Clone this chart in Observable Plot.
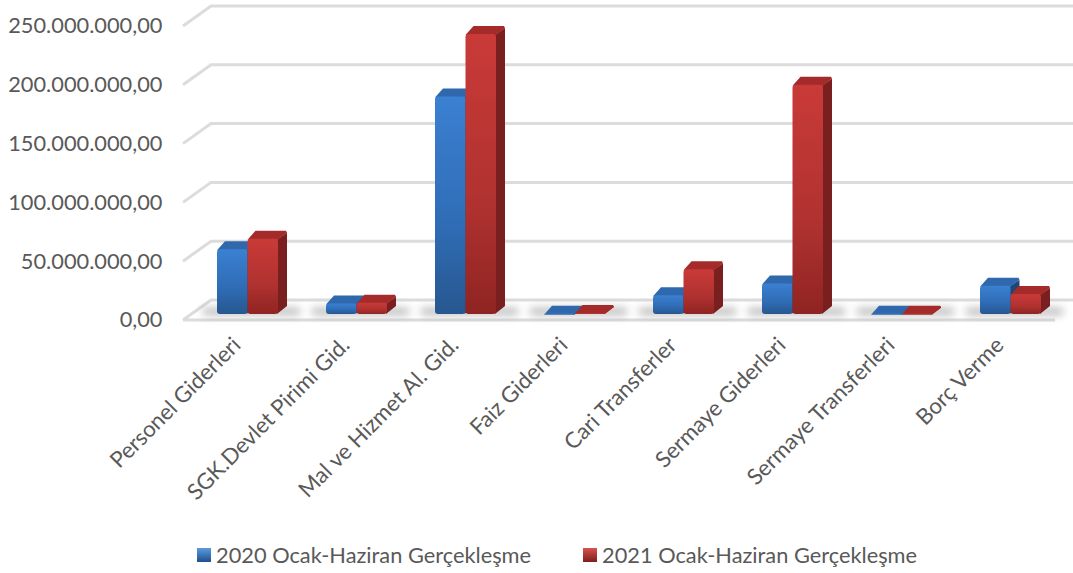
<!DOCTYPE html>
<html><head><meta charset="utf-8">
<style>
html,body{margin:0;padding:0;background:#fff;}
body{width:1073px;height:573px;overflow:hidden;font-family:Lato,sans-serif;}
#legend{display:flex;height:38px;align-items:center;font:21.8px Lato,sans-serif;color:#595959;position:relative;}
.key{position:absolute;top:6px;display:flex;align-items:center;white-space:nowrap;}
.sw{width:14px;height:14px;margin-right:5px;display:inline-block;}
.shadow{filter:blur(4px);opacity:.6;}
.bars{filter:blur(.6px);}
</style>
<script src="https://cdn.jsdelivr.net/npm/d3@7"></script>
<script src="https://cdn.jsdelivr.net/npm/@observablehq/plot@0.6"></script>
</head><body><div id="chart"></div><div id="legend"></div>
<script>
const categories = ["Personel Giderleri","SGK.Devlet Pirimi Gid.","Mal ve Hizmet Al. Gid.","Faiz Giderleri","Cari Transferler","Sermaye Giderleri","Sermaye Transferleri","Borç Verme"];
const values2020 = [55000000,9000000,185000000,300000,16000000,26000000,150000,24000000];
const values2021 = [64000000,9500000,238000000,800000,38000000,195000000,250000,17000000];
const seriesNames = ["2020 Ocak-Haziran Gerçekleşme","2021 Ocak-Haziran Gerçekleşme"];
const yTicks = [0,50000000,100000000,150000000,200000000,250000000];

const tr = d3.formatLocale({decimal:",",thousands:".",grouping:[3],currency:["",""]}).format(",.2f");
const NS = "http://www.w3.org/2000/svg";
const W = 1073, H = 535, depth = {gx:28, gy:20, bx:9, by:8};

function poly(parent, pts, fill){
  const p = document.createElementNS(NS,"polygon");
  p.setAttribute("points", pts.map(q=>q.join(",")).join(" "));
  p.setAttribute("fill", fill);
  parent.appendChild(p);
}
function gridRender(index, scales, values, dims){
  const g = document.createElementNS(NS,"g");
  const x0 = dims.marginLeft, x1 = dims.width - dims.marginRight;
  for (const v of yTicks){
    const y = scales.y(v);
    const path = document.createElementNS(NS,"path");
    const d = v===0
      ? `M${x0},${y}L${x0+depth.gx},${y-depth.gy}L${x1+depth.gx},${y-depth.gy}M${x0},${y}L${x1},${y}`
      : `M${x0},${y}L${x0+depth.gx},${y-depth.gy}L${x1+depth.gx},${y-depth.gy}`;
    path.setAttribute("d", d);
    path.setAttribute("fill","none");
    path.setAttribute("stroke","#dcdcdc");
    path.setAttribute("stroke-width","3");
    g.appendChild(path);
  }
  return g;
}
function bar3d(vals, key, insets){
  return Plot.barY(categories, {
    x: d=>d,
    y: (d,i)=>vals[i],
    ...insets,
    dx: 10, dy: -6, rx: 3,
    fill: `url(#front-${key})`,
    className: "bars",
    render(index, scales, values, dims, ctx, next){
      const g = next(index, scales, values, dims, ctx);
      g.querySelectorAll("rect").forEach(r=>{
        const x=+r.getAttribute("x"), y=+r.getAttribute("y"), w=+r.getAttribute("width"), h=+r.getAttribute("height");
        const par=r.parentNode;
        poly(par,[[x+w-1,y+1],[x+w+depth.bx,y-depth.by+2],[x+w+depth.bx,y+h-depth.by],[x+w-1,y+h]], key==="a"?"#1d4777":"#7a1f1f");
        poly(par,[[x,y+1],[x+depth.bx-1,y-depth.by],[x+w+depth.bx-1,y-depth.by],[x+w+depth.bx,y-depth.by+2],[x+w,y+1]], key==="a"?"#2f68ad":"#a52a2a");
        par.appendChild(r);
      });
      return g;
    }
  });
}
const half = 30.5;
const chart = Plot.plot({
  width: W, height: H,
  marginLeft: 183, marginRight: 18, marginTop: 26, marginBottom: H-320,
  style:{fontFamily:"Lato,sans-serif",background:"#fff",color:"#595959"},
  x:{domain:categories,paddingInner:48/109,paddingOuter:24/109,label:null},
  y:{domain:[0,250000000],label:null},
  marks:[
    Plot.ruleY([0],{render:gridRender}),
    Plot.tickY(categories,{x:d=>d,y:()=>0,dx:10,dy:-9,stroke:"#888",strokeWidth:7,insetLeft:-14,insetRight:-22,className:"shadow"}),
    bar3d(values2020,"a",{insetRight:half}),
    bar3d(values2021,"b",{insetLeft:half}),
    Plot.axisY({ticks:yTicks,tickFormat:tr,tickSize:0,tickPadding:21,fontSize:21.8,fill:"#595959",label:null}),
    Plot.axisX({tickRotate:-45,tickSize:0,tickPadding:21,fontSize:22.2,fill:"#595959",label:null,dx:-1})
  ]
});
const defs = d3.select(chart).insert("defs",":first-child");
[["a","#3b80d2","#2f6cb5","#27578f"],["b","#c93a38","#b03230","#8f2422"]].forEach(([k,c1,c2,c3])=>{
  const gr = defs.append("linearGradient").attr("id",`front-${k}`).attr("x1",0).attr("y1",0).attr("x2",0).attr("y2",1);
  gr.append("stop").attr("offset",0).attr("stop-color",c1);
  gr.append("stop").attr("offset",.6).attr("stop-color",c2);
  gr.append("stop").attr("offset",1).attr("stop-color",c3);
});
document.getElementById("chart").appendChild(chart);
const lg = document.getElementById("legend");
[[197,"#5b9be0,#1f4f8c"],[583,"#d9524f,#7d1f1d"]].forEach(([left,grad],i)=>{
  const k=document.createElement("div");k.className="key";k.style.left=left+"px";
  const s=document.createElement("span");s.className="sw";s.style.background=`linear-gradient(${grad})`;
  k.appendChild(s);k.appendChild(document.createTextNode(seriesNames[i]));lg.appendChild(k);
});
</script>
</body></html>
